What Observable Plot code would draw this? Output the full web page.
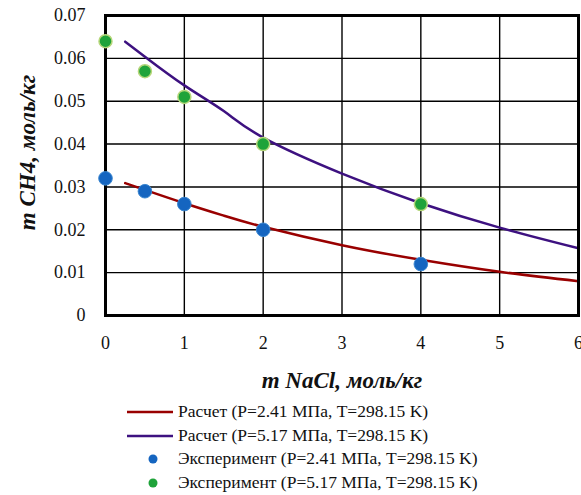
<!DOCTYPE html>
<html>
<head>
<meta charset="utf-8">
<script src="https://cdn.jsdelivr.net/npm/d3@7"></script>
<script src="https://cdn.jsdelivr.net/npm/@observablehq/plot@0.6"></script>
<style>
  body { margin: 0; background: #fff; }
  #chart { width: 581px; }
  .legend { font-family: "Liberation Serif", "Tinos", "DejaVu Serif", serif; font-size: 17.5px; color: #111; margin-top: 5px; }
  .row { display: flex; align-items: center; height: 23.5px; }
</style>
</head>
<body>
<div id="chart"></div>
<script>
// Data
const xTicks = [0, 1, 2, 3, 4, 5, 6];
const yTicks = [0, 0.01, 0.02, 0.03, 0.04, 0.05, 0.06, 0.07];

const calcX = [0.25, 0.5, 1, 1.5, 2, 3, 4, 5, 6];
const calcLow = [0.0309, 0.0293, 0.0262, 0.0233, 0.0207, 0.0164, 0.0130, 0.0102, 0.0080];
const calcHigh = [0.0639, 0.0604, 0.0537, 0.0477, 0.0415, 0.0331, 0.0262, 0.0205, 0.0157];

const expX = [0, 0.5, 1, 2, 4];
const expLow = [0.032, 0.029, 0.026, 0.020, 0.012];
const expHigh = [0.064, 0.057, 0.051, 0.040, 0.026];

const legendLabels = [
  "Расчет (P=2.41 МПа, T=298.15 K)",
  "Расчет (P=5.17 МПа, T=298.15 K)",
  "Эксперимент (P=2.41 МПа, T=298.15 K)",
  "Эксперимент (P=5.17 МПа, T=298.15 K)"
];
const xLabel = "m NaCl, моль/кг";
const yLabel = "m CH4, моль/кг";

const fontStack = "'Liberation Serif', 'Tinos', 'DejaVu Serif', serif";
const redColor = "#990000", purpleColor = "#3d1180", blueColor = "#1565c0", greenColor = "#1fa33a", greenEdge = "#b6d77a";

const lowLine = calcX.map((x, i) => ({x, y: calcLow[i]}));
const highLine = calcX.map((x, i) => ({x, y: calcHigh[i]}));
const lowPts = expX.map((x, i) => ({x, y: expLow[i]}));
const highPts = expX.map((x, i) => ({x, y: expHigh[i]}));

const chart = Plot.plot({
  width: 581,
  height: 395,
  marginLeft: 105,
  marginRight: 3,
  marginTop: 15,
  marginBottom: 80,
  style: {fontFamily: fontStack, fontSize: "18px", color: "#111", background: "#fff"},
  x: {domain: [0, 6]},
  y: {domain: [0, 0.07]},
  marks: [
    Plot.gridX(xTicks, {stroke: "#000", strokeOpacity: 1, strokeWidth: 1.4}),
    Plot.gridY(yTicks, {stroke: "#000", strokeOpacity: 1, strokeWidth: 1.4}),
    Plot.line(lowLine, {x: "x", y: "y", curve: "natural", stroke: redColor, strokeWidth: 2.5}),
    Plot.line(highLine, {x: "x", y: "y", curve: "natural", stroke: purpleColor, strokeWidth: 2.5}),
    Plot.frame({stroke: "#000", strokeWidth: 3}),
    Plot.dot(lowPts, {x: "x", y: "y", r: 6.8, fill: blueColor, stroke: "#3a86d0", strokeWidth: 1}),
    Plot.dot(highPts, {x: "x", y: "y", r: 6.5, fill: greenColor, stroke: greenEdge, strokeWidth: 1.5}),
    Plot.axisX(xTicks, {tickSize: 0, tickPadding: 21, label: null, fontSize: 18, fontFamily: fontStack}),
    Plot.axisY(yTicks, {tickSize: 0, tickPadding: 20, label: null, fontSize: 18, fontFamily: fontStack,
      tickFormat: d => d === 0 ? "0" : d.toFixed(2)}),
    Plot.text([xLabel], {frameAnchor: "bottom", dy: 65, lineAnchor: "middle", textAnchor: "middle", text: d => d, fontSize: 23, fontFamily: fontStack, fontWeight: "bold", fontStyle: "italic", fill: "#111"}),
    Plot.text([yLabel], {frameAnchor: "left", dx: -78, dy: -13, rotate: -90, lineAnchor: "middle", textAnchor: "middle", text: d => d, fontSize: 23, fontFamily: fontStack, fontWeight: "bold", fontStyle: "italic", fill: "#111"})
  ]
});
document.getElementById("chart").appendChild(chart);

// Legend
const legend = document.createElement("div");
legend.className = "legend";
const kinds = [
  {type: "line", color: redColor},
  {type: "line", color: purpleColor},
  {type: "dot", color: blueColor},
  {type: "dot", color: greenColor}
];
legendLabels.forEach((lab, i) => {
  const row = document.createElement("div");
  row.className = "row";
  const k = kinds[i];
  const sw = k.type === "line"
    ? `<svg width="51" height="23" style="margin-left:127px;display:block"><line x1="0" x2="46" y1="12" y2="12" stroke="${k.color}" stroke-width="2.5"/></svg>`
    : `<svg width="51" height="23" style="margin-left:127px;display:block"><circle cx="26" cy="12" r="4.5" fill="${k.color}"/></svg>`;
  row.innerHTML = sw + `<span>${lab}</span>`;
  legend.appendChild(row);
});
document.getElementById("chart").appendChild(legend);
</script>
</body>
</html>
